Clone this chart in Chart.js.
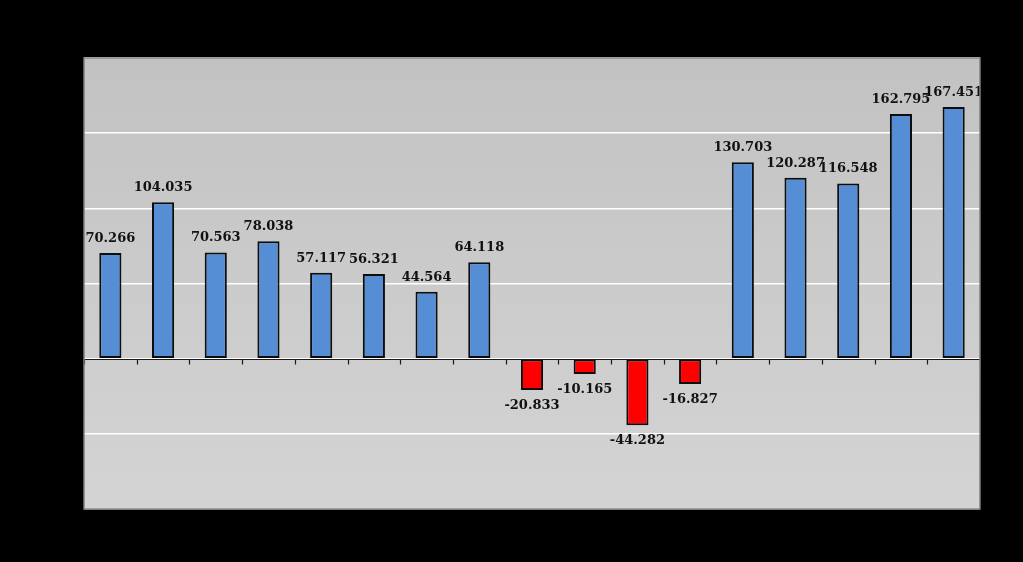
<!DOCTYPE html>
<html lang="en">
<head>
  <meta charset="UTF-8" />
  <title>Bar chart</title>
  <script src="https://cdn.jsdelivr.net/npm/chart.js"></script>
  <style>
    body {
      margin: 0;
      background: #000;
    }
    #chart {
      display: block;
    }
  </style>
</head>
<body>
  <canvas id="chart" width="1023" height="562"></canvas>

  <script>
    const categories = ['1', '2', '3', '4', '5', '6', '7', '8', '9', '10', '11', '12', '13', '14', '15', '16', '17'];
    const values = [70.266, 104.035, 70.563, 78.038, 57.117, 56.321, 44.564, 64.118,
                    -20.833, -10.165, -44.282, -16.827,
                    130.703, 120.287, 116.548, 162.795, 167.451];
    const yTicks = { min: -100, max: 200, step: 50 };

    const barColors = values.map(v => v < 0 ? '#ff0000' : '#558ed5');

    // plot area fill + border
    const plotBackground = {
      id: 'plotBackground',
      beforeDraw(chart) {
        const { ctx, chartArea: a } = chart;
        const g = ctx.createLinearGradient(0, a.top, 0, a.bottom);
        g.addColorStop(0, '#c2c2c2');
        g.addColorStop(1, '#d4d4d4');
        ctx.save();
        ctx.fillStyle = g;
        ctx.fillRect(a.left, a.top, a.right - a.left, a.bottom - a.top);
        ctx.restore();
      },
      afterDraw(chart) {
        const { ctx, chartArea: a } = chart;
        ctx.save();
        ctx.strokeStyle = '#7f7f7f';
        ctx.lineWidth = 1.5;
        ctx.strokeRect(a.left, a.top, a.right - a.left, a.bottom - a.top);
        ctx.restore();
      }
    };

    // category axis sits on the zero line, ticks between categories
    const zeroAxis = {
      id: 'zeroAxis',
      afterDatasetsDraw(chart) {
        const { ctx, chartArea: a, scales } = chart;
        const y0 = Math.round(scales.y.getPixelForValue(0)) + 0.5;
        const x = scales.x;
        const half = (x.getPixelForValue(1) - x.getPixelForValue(0)) / 2;
        ctx.save();
        ctx.strokeStyle = '#1a1a1a';
        ctx.lineWidth = 1.2;
        ctx.beginPath();
        ctx.moveTo(a.left, y0);
        ctx.lineTo(a.right, y0);
        for (let i = 0; i <= categories.length; i++) {
          const px = Math.round(x.getPixelForValue(i) - half) + 0.5;
          ctx.moveTo(px, y0);
          ctx.lineTo(px, y0 + 5);
        }
        ctx.stroke();
        ctx.restore();
      }
    };

    const valueLabels = {
      id: 'valueLabels',
      afterDatasetsDraw(chart) {
        const { ctx } = chart;
        const bars = chart.getDatasetMeta(0).data;
        ctx.save();
        ctx.font = 'bold 13px "DejaVu Serif", serif';
        ctx.fillStyle = '#111';
        ctx.textAlign = 'center';
        bars.forEach((bar, i) => {
          const txt = values[i].toFixed(3);
          if (values[i] >= 0) {
            ctx.textBaseline = 'bottom';
            ctx.fillText(txt, bar.x, bar.y - 8);
          } else {
            ctx.textBaseline = 'top';
            ctx.fillText(txt, bar.x, bar.y + 9);
          }
        });
        ctx.restore();
      }
    };

    new Chart(document.getElementById('chart'), {
      type: 'bar',
      data: {
        labels: categories,
        datasets: [{
          data: values,
          backgroundColor: barColors,
          borderColor: '#0d0d0d',
          borderWidth: 2,
          borderSkipped: false,
          categoryPercentage: 1,
          barPercentage: 0.42
        }]
      },
      options: {
        responsive: false,
        animation: false,
        layout: {
          padding: { left: 84, right: 43, top: 58, bottom: 53 }
        },
        plugins: {
          legend: { display: false },
          tooltip: { enabled: false }
        },
        scales: {
          x: { display: false },
          y: {
            min: yTicks.min,
            max: yTicks.max,
            ticks: { display: false, stepSize: yTicks.step },
            border: { display: false },
            grid: { color: '#ffffff', lineWidth: 1.5, drawTicks: false }
          }
        }
      },
      plugins: [plotBackground, zeroAxis, valueLabels]
    });
  </script>
</body>
</html>
